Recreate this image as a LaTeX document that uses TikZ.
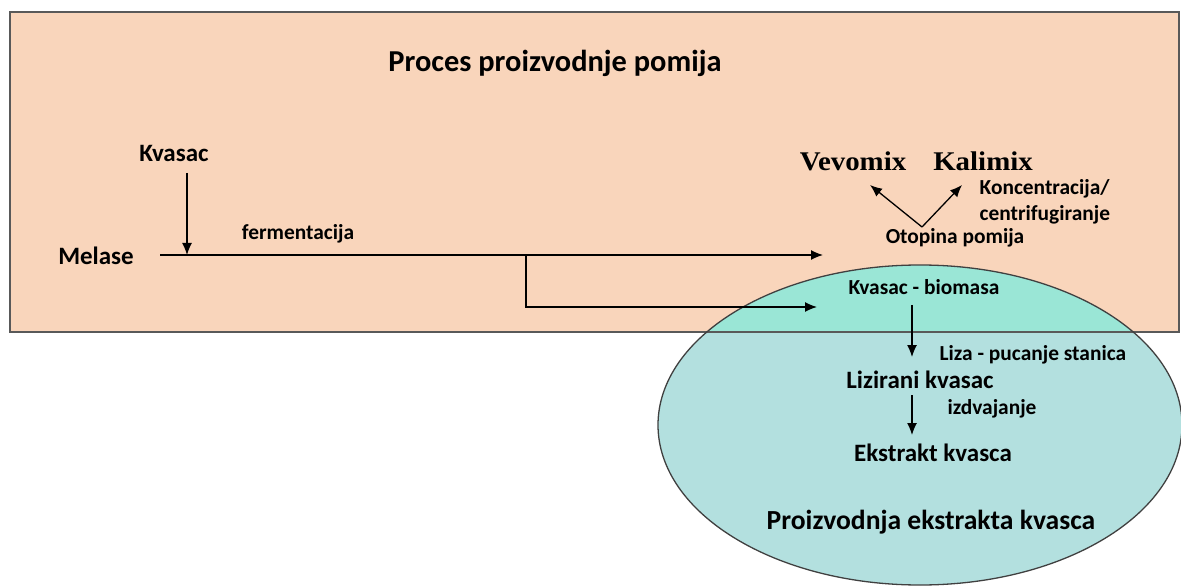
\documentclass[tikz,border=0pt]{standalone}
\usepackage{fontspec}
\setmainfont{Carlito}
\newfontfamily\timesfont[FakeStretch=1.07]{Liberation Serif}
\usetikzlibrary{arrows.meta,positioning,calc}
\usepackage{xcolor}
\definecolor{peach}{HTML}{F9D5BB}
\definecolor{tealin}{HTML}{9AE6D6}
\definecolor{tealout}{HTML}{B3E0DF}

\begin{document}
\begin{tikzpicture}[
            x=0.5pt, y=-0.5pt,
            line width=0.65pt,
            >={Latex[length=6pt,width=5pt]},
            lbl/.style={font=\bfseries\fontsize{10.7}{13}\selectfont, inner sep=1pt},
            midlbl/.style={font=\bfseries\fontsize{12.5}{15}\selectfont, inner sep=1pt},
            ttl/.style={font=\bfseries\fontsize{15.2}{18}\selectfont, inner sep=1pt},
            product/.style={font=\timesfont\bfseries\fontsize{13.5}{16}\selectfont, inner sep=1pt}
        ]
        \useasboundingbox (0,0) rectangle (1181,587);
        % boxes
        \fill[peach] (10,12) rectangle (1179,332);
        \fill[tealout] (920,425) ellipse [x radius=262, y radius=160];
        \begin{scope}
            \clip (10,12) rectangle (1179,332);
            \fill[tealin] (920,425) ellipse [x radius=262, y radius=160];
        \end{scope}
        \draw[black!65, line width=0.8pt] (10,12) rectangle (1179,332);
        \draw[black!75] (920,425) ellipse [x radius=262, y radius=160];

        \node[ttl] (title) at (555,63) {Proces proizvodnje pomija};
        \node[midlbl] (kvasac) at (174,153) {Kvasac};
        \node[midlbl] (melase) at (96,256) {Melase};
        \node[lbl] (ferm) at (298,234) {fermentacija};
        \node[product] (vevomix) at (853,161) {Vevomix};
        \node[product] (kalimix) at (983,161) {Kalimix};
        \node[lbl, align=left, anchor=west] (konc) at (977,202) {Koncentracija/\\centrifugiranje};
        \node[lbl] (otopina) at (955,238) {Otopina pomija};
        \node[lbl] (biomasa) at (924,287) {Kvasac - biomasa};
        \node[lbl, anchor=west] (liza) at (937,355) {Liza - pucanje stanica};
        \node[midlbl] (lizirani) at (920,380) {Lizirani kvasac};
        \node[lbl] (izdv) at (992,409) {izdvajanje};
        \node[midlbl] (ekstrakt) at (933,453) {Ekstrakt kvasca};
        \node[font=\bfseries\fontsize{13.8}{16}\selectfont, inner sep=1pt] (ekstproc) at (931,522) {Proizvodnja ekstrakta kvasca};

        \coordinate (kvtop) at (187,173);
        \coordinate (start) at (160,255);
        \coordinate (kvtip) at (187,255);
        \coordinate (split) at (526,255);
        \coordinate (pomend) at (823,255);
        \coordinate (biomend) at (817,307);
        \coordinate (apex) at (922,227);
        \coordinate (vevtip) at (870,185);
        \coordinate (kaltip) at (962,185);
        \coordinate (lizatop) at (912,305);
        \coordinate (lizatip) at (912,357);
        \coordinate (izdtop) at (912,395);
        \coordinate (izdtip) at (912,435);

        \draw[->] (kvtop) -- (kvtip);
        \draw[->] (start) -- (pomend);
        \draw[->] (split) |- (biomend);
        \draw[->] (apex) -- (vevtip);
        \draw[->] (apex) -- (kaltip);
        \draw[->] (lizatop) -- (lizatip);
        \draw[->] (izdtop) -- (izdtip);
    \end{tikzpicture}
\end{document}
